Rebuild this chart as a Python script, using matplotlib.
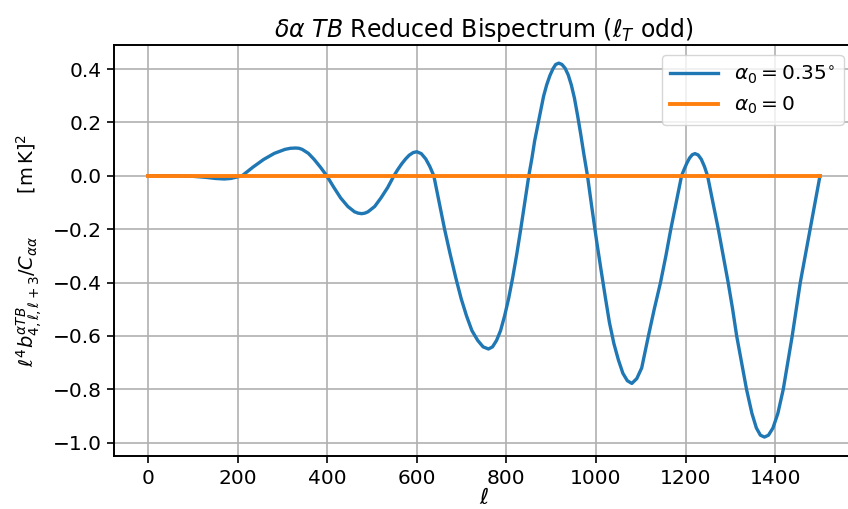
import matplotlib
matplotlib.use('Agg')
import matplotlib.pyplot as plt
import numpy as np

# Values (ell, reduced bispectrum)
ell = [0, 60, 100, 130, 150, 170, 185, 198, 210,
       234, 258, 282, 306, 318, 330, 337, 344, 358, 371, 385, 399,
       415, 430, 446, 461, 469, 477, 484, 491, 506, 520, 535, 549,
       557, 566, 575, 583, 592, 600, 610, 620, 629, 638,
       650, 662, 674, 687, 699, 711, 723, 736, 748, 760,
       769, 778, 787, 796, 805, 814, 823, 832, 841, 850,
       857, 863, 870, 877, 883, 890, 897, 904, 910, 917,
       924, 931, 938, 945, 952, 959, 966, 973, 981,
       990, 1001, 1011, 1021, 1030, 1040, 1050, 1060, 1070, 1080,
       1091, 1102, 1117, 1130, 1144, 1156, 1167, 1179, 1191,
       1197, 1203, 1209, 1215, 1221, 1228, 1235, 1242, 1249,
       1261, 1273, 1284, 1295, 1305, 1314, 1325, 1336, 1348, 1358, 1367, 1376,
       1385, 1395, 1406, 1418, 1428, 1438, 1447, 1456, 1467, 1478, 1489, 1500]
b_rot = [0.0, 0.0, -0.002, -0.006, -0.010, -0.012, -0.010, -0.005, 0.0,
         0.032, 0.061, 0.084, 0.099, 0.103, 0.104, 0.103, 0.099, 0.084, 0.061, 0.032, 0.0,
         -0.044, -0.083, -0.115, -0.135, -0.140, -0.142, -0.140, -0.135, -0.115, -0.083, -0.044, 0.0,
         0.022, 0.044, 0.063, 0.077, 0.087, 0.090, 0.083, 0.063, 0.035, 0.0,
         -0.10, -0.20, -0.29, -0.382, -0.46, -0.525, -0.58, -0.617, -0.641, -0.649,
         -0.641, -0.617, -0.58, -0.525, -0.46, -0.382, -0.295, -0.20, -0.10, 0.0,
         0.066, 0.130, 0.19, 0.248, 0.298, 0.341, 0.375, 0.401, 0.417, 0.422,
         0.417, 0.403, 0.378, 0.34, 0.29, 0.225, 0.155, 0.08, 0.0,
         -0.11, -0.24, -0.35, -0.457, -0.55, -0.629, -0.69, -0.74, -0.768, -0.778,
         -0.76, -0.72, -0.60, -0.50, -0.40, -0.30, -0.20, -0.10, 0.0,
         0.025, 0.048, 0.067, 0.079, 0.083, 0.078, 0.062, 0.035, 0.0,
         -0.10, -0.20, -0.30, -0.40, -0.50, -0.60, -0.70, -0.80, -0.89, -0.945, -0.972, -0.979,
         -0.972, -0.945, -0.89, -0.80, -0.70, -0.60, -0.50, -0.40, -0.30, -0.20, -0.10, 0.0]
ell_zero = [0, 1500]
b_zero = [0.0, 0.0]

fig = plt.figure(figsize=(8.48, 5.09), dpi=100)
ax = fig.add_axes([0.1349, 0.1041, 0.8717, 0.8075])

ax.plot(ell, b_rot, color='#1f77b4', lw=2.4, label=r'$\alpha_0 = 0.35^{\circ}$')
ax.plot(ell_zero, b_zero, color='#ff7f0e', lw=2.8, label=r'$\alpha_0 = 0$')

ax.set_xlim(-75, 1575)
ax.set_ylim(-1.05, 0.49)
ax.set_xticks(np.arange(0, 1401, 200))
ax.set_yticks(np.arange(-1.0, 0.41, 0.2))
ax.grid(True, color='#b0b0b0', lw=1.2)
ax.tick_params(labelsize=14.5, length=5, width=1.2, pad=4)
for s in ax.spines.values():
    s.set_linewidth(1.4)

ax.set_title(r'$\delta\alpha\ TB$ Reduced Bispectrum ($\ell_T$ odd)', fontsize=17, pad=6)
ax.set_xlabel(r'$\ell$', fontsize=16, labelpad=0)
ax.set_ylabel(r'$\ell^4 b^{\alpha TB}_{4,\ell,\ell+3}/C_{\alpha\alpha}$       $[\mathrm{m\,K}]^2$',
              fontsize=14, labelpad=6)
ax.legend(loc='upper right', fontsize=14.5, handlelength=2.4)

fig.savefig('out.png', dpi=100)
